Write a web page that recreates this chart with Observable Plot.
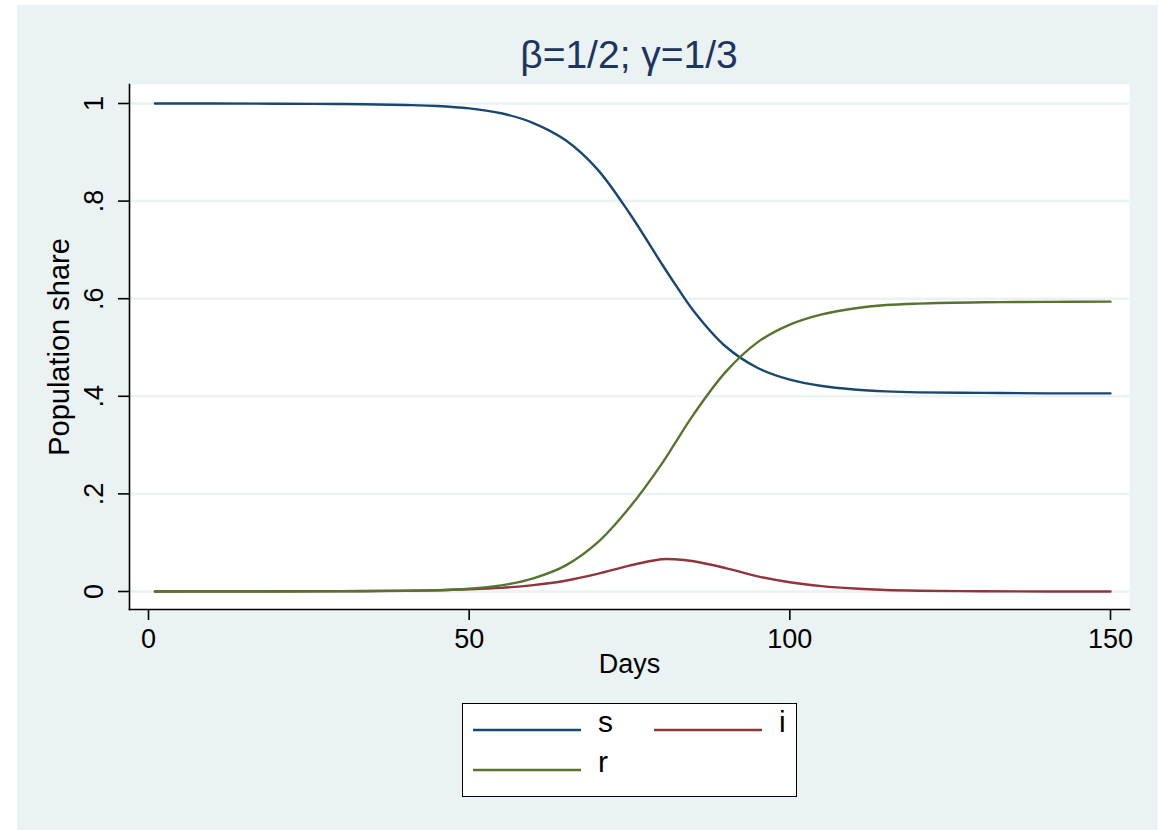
<!DOCTYPE html>
<html>
<head>
<meta charset="utf-8">
<script src="https://cdn.jsdelivr.net/npm/d3@7"></script>
<script src="https://cdn.jsdelivr.net/npm/@observablehq/plot@0.6"></script>
<style>
  html, body { margin: 0; padding: 0; background: #ffffff; width: 1161px; height: 830px; overflow: hidden; }
  #wrap { position: absolute; left: 17px; top: 5px; width: 1141px; height: 825px; background: #eaf2f3;
          font-family: "Liberation Sans", Arial, Helvetica, sans-serif; }
  #title { position: absolute; left: 112px; width: 1000px; top: 30px; text-align: center;
           font-size: 39px; line-height: 39px; color: #1c355e; }
  #chart { position: absolute; left: 0; top: 75px; }
  #legend { position: absolute; left: 445px; top: 698px; width: 335px; height: 94px; box-sizing: border-box;
            border: 1.5px solid #000; background: #ffffff; }
  #legend svg { position: absolute; left: -1.5px; top: -1.5px; }
</style>
</head>
<body>
<div id="wrap">
  <div id="title"></div>
  <div id="chart"></div>
  <div id="legend"></div>
</div>
<script>
// ---- data ----
const titleText = "β=1/2; γ=1/3";
const xLabel = "Days";
const yLabel = "Population share";
const seriesNames = ["s", "i", "r"];
const seriesColors = ["#1a476f", "#90353b", "#55752f"];
const days = [1, 10, 20, 30, 40, 45, 50, 55, 60, 65, 70, 75, 80, 82, 85, 90, 95, 100, 105, 110, 115, 120, 130, 140, 150];
const sValues = [1, 1, 0.9995, 0.999, 0.997, 0.995, 0.99, 0.98, 0.96, 0.925, 0.865, 0.775, 0.672, 0.632, 0.575, 0.502, 0.458, 0.434, 0.421, 0.414, 0.41, 0.408, 0.407, 0.406, 0.406];
const iValues = [0.0001, 0.0002, 0.0004, 0.0008, 0.0017, 0.0027, 0.0045, 0.0075, 0.013, 0.022, 0.036, 0.053, 0.066, 0.066, 0.062, 0.048, 0.031, 0.019, 0.011, 0.006, 0.003, 0.0016, 0.0004, 0.0001, 0];
const rValues = [0, 0, 0.0001, 0.0002, 0.0013, 0.0023, 0.0055, 0.0125, 0.027, 0.053, 0.1, 0.172, 0.261, 0.302, 0.363, 0.45, 0.511, 0.547, 0.568, 0.58, 0.587, 0.59, 0.5926, 0.5934, 0.594];
const xTicks = [0, 50, 100, 150];
const yTicks = [0, 0.2, 0.4, 0.6, 0.8, 1];
const yTickLabels = ["0", ".2", ".4", ".6", ".8", "1"];

// ---- build table ----
const valuesBySeries = {s: sValues, i: iValues, r: rValues};
const table = [];
for (const name of seriesNames) {
  valuesBySeries[name].forEach((v, k) => table.push({day: days[k], value: v, series: name}));
}
const yLabelMap = new Map(yTicks.map((t, k) => [t, yTickLabels[k]]));

const FONT = '"Liberation Sans", Arial, Helvetica, sans-serif';

document.getElementById("title").textContent = titleText;

const chart = Plot.plot({
  width: 1141,
  height: 610,
  marginTop: 4,
  marginBottom: 81,
  marginLeft: 112,
  marginRight: 29,
  style: {background: "transparent", fontFamily: FONT, fontSize: "27px", color: "#000", overflow: "visible"},
  x: {domain: [0, 150], insetLeft: 19, insetRight: 19},
  y: {domain: [0, 1], insetTop: 19, insetBottom: 18},
  color: {domain: seriesNames, range: seriesColors},
  marks: [
    Plot.frame({fill: "#ffffff", stroke: "none"}),
    Plot.gridY(yTicks, {stroke: "#eaf2f3", strokeOpacity: 1, strokeWidth: 2.5}),
    Plot.line(table, {x: "day", y: "value", z: "series", stroke: "series", strokeWidth: 2.4, curve: "catmull-rom"}),
    Plot.frame({anchor: "left", stroke: "#000", strokeWidth: 1.6}),
    Plot.frame({anchor: "bottom", stroke: "#000", strokeWidth: 1.6}),
    Plot.axisX(xTicks, {tickSize: 11, tickPadding: 8, strokeWidth: 1.6, fontSize: 27, tickFormat: d => String(d),
      label: xLabel, labelAnchor: "center", labelOffset: 63, labelArrow: "none"}),
    Plot.axisY(yTicks, {tickSize: 11, tickPadding: 16, strokeWidth: 1.6, fontSize: 27, tickRotate: -90,
      tickFormat: d => yLabelMap.get(d), label: null}),
    Plot.axisY(yTicks, {tickSize: 0, text: null, fontSize: 29,
      label: yLabel, labelAnchor: "center", labelOffset: 81, labelArrow: "none"})
  ]
});
document.getElementById("chart").appendChild(chart);

// ---- legend ----
const lg = d3.select("#legend").append("svg").attr("width", 335).attr("height", 94);
seriesNames.forEach((name, k) => {
  const col = k % 2, row = Math.floor(k / 2);
  const x0 = 11 + col * 181, y0 = 27 + row * 40;
  lg.append("line").attr("x1", x0).attr("x2", x0 + 108).attr("y1", y0).attr("y2", y0)
    .attr("stroke", seriesColors[k]).attr("stroke-width", 2.6);
  lg.append("text").attr("x", x0 + 125).attr("y", y0 + 2).text(name)
    .attr("font-family", FONT).attr("font-size", 30).attr("fill", "#000");
});
</script>
</body>
</html>
